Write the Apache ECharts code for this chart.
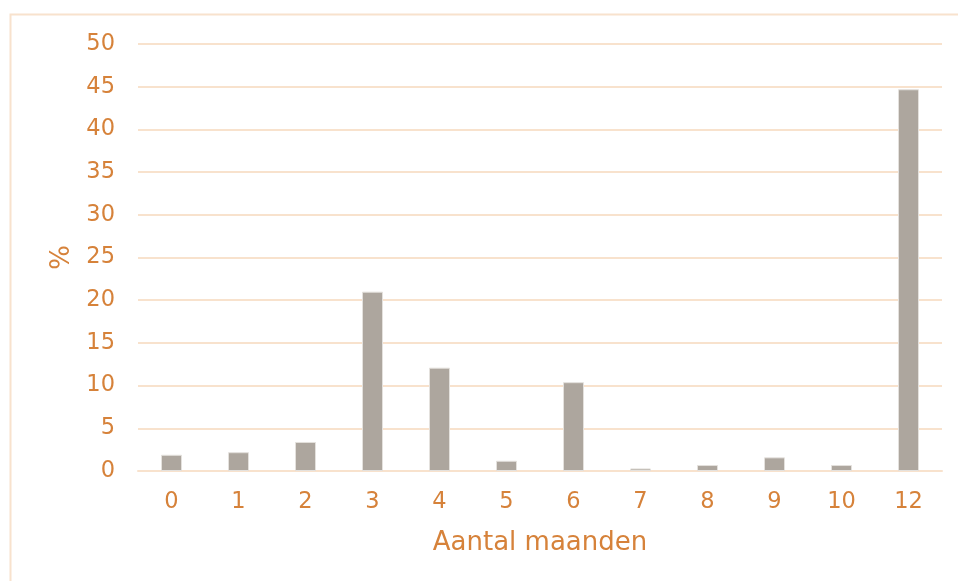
<!DOCTYPE html>
<html><head><meta charset="utf-8">
<script src="https://cdn.jsdelivr.net/npm/echarts@6/dist/echarts.min.js"></script>
<style>html,body{margin:0;padding:0;background:#fff;}#c{width:958px;height:581px;}</style>
</head><body><div id="c"></div>
<script>
const categories = ['0','1','2','3','4','5','6','7','8','9','10','12'];
const values = [1.9, 2.2, 3.4, 21.0, 12.1, 1.2, 10.4, 0.3, 0.7, 1.6, 0.7, 44.7];
const yTicks = [0, 50, 5];
const orange = '#D6823A';
const peach = '#F8E2CD';
const chart = echarts.init(document.getElementById('c'), null, {renderer:'canvas'});
chart.setOption({
  animation:false,
  graphic:[{type:'rect', shape:{x:10.5,y:14.5,width:960,height:600}, style:{fill:'none', stroke:peach, lineWidth:2}, silent:true}],
  grid:{left:138, right:16, top:44, bottom:110, containLabel:false},
  xAxis:{type:'category', data:categories,
    axisLine:{show:true, lineStyle:{color:peach, width:2}}, axisTick:{show:false},
    axisLabel:{color:orange, fontFamily:'DejaVu Sans', fontSize:22.5, margin:20},
    name:'Aantal maanden', nameLocation:'middle', nameGap:59,
    nameTextStyle:{color:orange, fontFamily:'DejaVu Sans', fontSize:26}},
  yAxis:{type:'value', min:yTicks[0], max:yTicks[1], interval:yTicks[2],
    axisLine:{show:false}, axisTick:{show:false},
    splitLine:{lineStyle:{color:peach, width:2}},
    axisLabel:{color:orange, fontFamily:'DejaVu Sans', fontSize:22.5, margin:23},
    name:'%', nameLocation:'middle', nameGap:62, nameRotate:90,
    nameTextStyle:{color:orange, fontFamily:'DejaVu Sans', fontSize:26}},
  series:[{type:'bar', data:values, barWidth:21,
    itemStyle:{color:'#ADA69E', borderColor:'#E4E1DD', borderWidth:1}}]
});
</script></body></html>
